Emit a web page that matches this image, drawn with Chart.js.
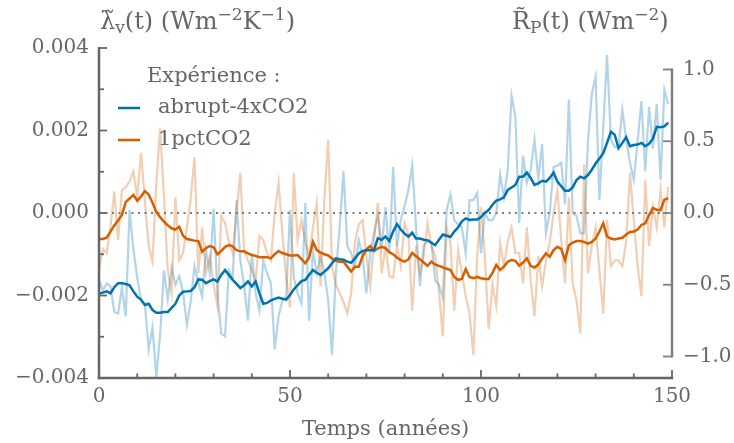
<!DOCTYPE html>
<html>
<head>
<meta charset="utf-8">
<script src="https://cdn.jsdelivr.net/npm/chart.js@4.4.1/dist/chart.umd.min.js"></script>
<style>
  html, body { margin: 0; padding: 0; background: #fff; }
  canvas { display: block; }
</style>
</head>
<body>
<canvas id="chart" width="734" height="443"></canvas>
<script>
// années 0..149
const years = Array.from({ length: 150 }, (_, i) => i);

// lambda_v lissé (Wm-2K-1), axe de gauche
const lambdaAbrupt = [
  -0.00195, -0.00193, -0.00190, -0.00195, -0.00180, -0.00170, -0.00170, -0.00172, -0.00175, -0.00190,
  -0.00203, -0.00210, -0.00223, -0.00220, -0.00235, -0.00242, -0.00242, -0.00240, -0.00240, -0.00230,
  -0.00220, -0.00200, -0.00191, -0.00190, -0.00189, -0.00180, -0.00161, -0.00162, -0.00170, -0.00165,
  -0.00161, -0.00166, -0.00150, -0.00138, -0.00150, -0.00162, -0.00172, -0.00182, -0.00175, -0.00166,
  -0.00178, -0.00166, -0.00195, -0.00220, -0.00218, -0.00212, -0.00208, -0.00205, -0.00208, -0.00210,
  -0.00199, -0.00185, -0.00175, -0.00165, -0.00162, -0.00150, -0.00138, -0.00145, -0.00150, -0.00142,
  -0.00134, -0.00122, -0.00110, -0.00112, -0.00113, -0.00118, -0.00121, -0.00110, -0.00098, -0.00092,
  -0.00090, -0.00090, -0.00090, -0.00061, -0.00065, -0.00057, -0.00068, -0.00045, -0.00027, -0.00040,
  -0.00050, -0.00057, -0.00048, -0.00062, -0.00062, -0.00065, -0.00066, -0.00072, -0.00078, -0.00065,
  -0.00052, -0.00055, -0.00058, -0.00045, -0.00035, -0.00020, -0.00013, -0.00017, -0.00016, -0.00016,
  -0.00010, 0.00000, 0.00007, 0.00020, 0.00030, 0.00033, 0.00038, 0.00056, 0.00062, 0.00068,
  0.00088, 0.00088, 0.00098, 0.00085, 0.00068, 0.00072, 0.00078, 0.00076, 0.00085, 0.00098,
  0.00076, 0.00065, 0.00054, 0.00054, 0.00062, 0.00080, 0.00088, 0.00084, 0.00092, 0.00105,
  0.00120, 0.00132, 0.00145, 0.00170, 0.00197, 0.00190, 0.00157, 0.00170, 0.00184, 0.00162,
  0.00165, 0.00166, 0.00170, 0.00162, 0.00168, 0.00180, 0.00209, 0.00208, 0.00210, 0.00219
];
const lambdaPct = [
  -0.00063, -0.00063, -0.00060, -0.00045, -0.00030, -0.00018, -0.00005, 0.00027, 0.00035, 0.00044,
  0.00030, 0.00040, 0.00053, 0.00045, 0.00025, 0.00003, -0.00010, -0.00021, -0.00030, -0.00037,
  -0.00040, -0.00033, -0.00055, -0.00063, -0.00065, -0.00067, -0.00068, -0.00094, -0.00085, -0.00080,
  -0.00083, -0.00100, -0.00092, -0.00082, -0.00078, -0.00081, -0.00090, -0.00093, -0.00093, -0.00098,
  -0.00102, -0.00104, -0.00107, -0.00107, -0.00107, -0.00110, -0.00100, -0.00092, -0.00097, -0.00100,
  -0.00103, -0.00103, -0.00102, -0.00112, -0.00122, -0.00108, -0.00070, -0.00090, -0.00096, -0.00100,
  -0.00103, -0.00110, -0.00116, -0.00118, -0.00118, -0.00130, -0.00142, -0.00130, -0.00130, -0.00105,
  -0.00088, -0.00080, -0.00092, -0.00086, -0.00082, -0.00085, -0.00095, -0.00100, -0.00108, -0.00114,
  -0.00118, -0.00112, -0.00097, -0.00105, -0.00112, -0.00120, -0.00128, -0.00118, -0.00125, -0.00128,
  -0.00132, -0.00135, -0.00138, -0.00155, -0.00162, -0.00160, -0.00136, -0.00155, -0.00158, -0.00155,
  -0.00158, -0.00160, -0.00160, -0.00145, -0.00126, -0.00138, -0.00130, -0.00118, -0.00114, -0.00116,
  -0.00128, -0.00120, -0.00110, -0.00128, -0.00132, -0.00125, -0.00110, -0.00098, -0.00106, -0.00090,
  -0.00082, -0.00087, -0.00114, -0.00078, -0.00072, -0.00068, -0.00068, -0.00070, -0.00074, -0.00070,
  -0.00062, -0.00045, -0.00025, -0.00057, -0.00062, -0.00064, -0.00062, -0.00060, -0.00052, -0.00046,
  -0.00045, -0.00040, -0.00029, -0.00025, -0.00005, 0.00012, 0.00008, 0.00007, 0.00032, 0.00036
];

// R_P annuel (Wm-2), axe de droite
const rAbrupt = [
  -0.47, -0.54, -0.49, -0.51, -0.69, -0.70, -0.52, -0.72, 0.02, -0.25,
  -0.45, -0.61, -0.63, -0.95, -0.80, -1.14, -0.85, -0.40, -0.60, -0.38,
  -0.50, -0.44, -0.55, -0.78, -0.62, -0.37, -0.48, -0.58, -0.26, -0.42,
  0.03, -0.56, -0.84, -0.86, -0.40, -0.45, 0.09, -0.33, -0.51, -0.75,
  -0.28, -0.56, -0.68, -0.33, -0.42, -0.49, -0.95, -0.72, -0.61, -0.58,
  0.02, -0.45, -0.56, -0.63, 0.07, -0.75, -0.26, -0.42, -0.30, -0.42,
  -0.61, -0.99, -0.42, -0.10, 0.29, -0.23, -0.28, -0.37, -0.19, -0.30,
  -0.56, -0.28, -0.14, -0.02, -0.23, 0.04, -0.28, 0.32, -0.23, -0.05,
  0.05, 0.16, 0.33, -0.10, -0.51, -0.23, -0.19, -0.20, -0.47, -0.50,
  -0.59, 0.02, 0.13, -0.05, -0.08, -0.10, -0.28, 0.09, 0.09, 0.14,
  -0.28, 0.00, -0.05, -0.05, 0.00, 0.27, 0.11, 0.30, 0.82, 0.67,
  -0.07, 0.40, 0.21, 0.30, 0.51, 0.24, 0.48, -0.14, 0.00, 0.32,
  0.33, 0.35, 0.06, 0.79, 0.00, -0.02, -0.14, -0.14, 0.50, 0.83,
  0.95, 0.09, 0.60, 1.10, 0.51, 0.46, 0.46, 0.72, 0.51, 0.35,
  0.23, 0.50, 0.78, 0.29, 0.74, 0.45, 0.76, 0.23, 0.86, 0.76
];
const rPct = [
  -0.40, -0.25, -0.28, -0.10, 0.15, -0.19, 0.16, 0.18, 0.22, 0.29,
  0.11, 0.42, 0.09, -0.23, -0.34, 0.20, 0.59, 0.11, -0.40, -0.56,
  0.11, -0.33, -0.28, -0.10, 0.10, 0.39, -0.42, -0.10, -0.42, -0.30,
  -0.50, -0.65, -0.02, -0.07, -0.20, -0.28, 0.00, 0.28, -0.26, -0.33,
  -0.40, -0.47, -0.16, -0.19, -0.28, -0.33, 0.00, 0.21, -0.14, -0.45,
  -0.66, 0.28, -0.19, -0.05, -0.20, -0.30, -0.10, 0.07, -0.51, 0.10,
  0.51, -0.37, -0.50, -0.56, -0.62, -0.70, -0.56, -0.20, -0.08, -0.05,
  -0.30, -0.51, -0.20, 0.07, -0.42, -0.23, -0.44, -0.45, -0.23, -0.37,
  -0.07, -0.15, -0.68, -0.23, -0.42, -0.30, -0.07, -0.23, -0.30, -0.55,
  -0.86, -0.10, -0.21, -0.68, -0.26, -0.42, -0.58, -0.70, -0.99, -0.30,
  0.04, -0.30, -0.81, -0.50, -0.65, -0.21, -0.37, -0.20, -0.10, -0.28,
  -0.28, -0.49, -0.10, -0.47, -0.72, -0.30, -0.51, -0.33, -0.20, 0.00,
  0.16, -0.19, -0.49, 0.11, -0.49, -0.61, -0.84, 0.34, -0.42, -0.23,
  -0.10, -0.40, -0.70, -0.05, -0.37, -0.33, -0.33, -0.37, -0.20, 0.28,
  -0.05, -0.37, -0.58, 0.23, -0.23, 0.04, -0.10, 0.16, -0.10, 0.18
];

const experiments = ["abrupt-4xCO2", "1pctCO2"];
const xTicks = [0, 50, 100, 150];
const xMinor = [10, 20, 30, 40, 60, 70, 80, 90, 110, 120, 130, 140];
const leftTicks = [-0.004, -0.002, 0, 0.002, 0.004];
const leftMinor = [-0.003, -0.001, 0.001, 0.003];
const rightTicks = [-1.0, -0.5, 0, 0.5, 1.0];

const BLUE = "#0072B2";
const ORANGE = "#D55E00";
const GREY = "#666666";
const FONT = '"DejaVu Serif", serif';

const pts = (arr) => arr.map((v, i) => ({ x: years[i], y: v }));
const setTicks = (vals) => (scale) => { scale.ticks = vals.map(v => ({ value: v })); };
const minus = (s) => s.replace("-", "\u2212");

function line(ctx, x1, y1, x2, y2) {
    ctx.beginPath();
    ctx.moveTo(x1, y1);
    ctx.lineTo(x2, y2);
    ctx.stroke();
}

function richText(ctx, parts, x, y) {
    let cx = x;
    parts.forEach(([txt, size, dy]) => {
        ctx.font = size + "px " + FONT;
        ctx.fillText(txt, cx, y + dy);
        cx += ctx.measureText(txt).width;
    });
}

const decor = {
    id: "decor",
    afterDatasetsDraw(chart) {
        const { ctx, chartArea: a } = chart;
        const { x, y, y2 } = chart.scales;
        ctx.save();
        ctx.lineCap = "butt";

        // spines
        ctx.strokeStyle = GREY;
        ctx.lineWidth = 2.5;
        line(ctx, a.left, a.top - 1, a.left, a.bottom + 1.25);
        line(ctx, a.left - 1.25, a.bottom, a.right + 1.25, a.bottom);
        ctx.strokeStyle = "#7f7f7f";
        line(ctx, a.right, y2.getPixelForValue(1.0) - 1, a.right, y2.getPixelForValue(-1.0) + 1);

        // ticks (vers l'intérieur)
        ctx.lineWidth = 1.8;
        ctx.strokeStyle = GREY;
        leftTicks.forEach(v => { const p = y.getPixelForValue(v); line(ctx, a.left, p, a.left + 8, p); });
        leftMinor.forEach(v => { const p = y.getPixelForValue(v); line(ctx, a.left, p, a.left + 5, p); });
        xTicks.forEach(v => { const p = x.getPixelForValue(v); line(ctx, p, a.bottom, p, a.bottom - 8); });
        xMinor.forEach(v => { const p = x.getPixelForValue(v); line(ctx, p, a.bottom, p, a.bottom - 4.5); });
        ctx.strokeStyle = "#7f7f7f";
        rightTicks.forEach(v => { const p = y2.getPixelForValue(v); line(ctx, a.right, p, a.right - 9, p); });

        // titres des axes y
        ctx.fillStyle = GREY;
        ctx.textBaseline = "alphabetic";
        ctx.textAlign = "left";
        richText(ctx, [["\u03BB\u0303", 24, 0], ["v", 17, 4], ["(t) (Wm", 24, 0], ["\u22122", 17, -9],
            ["K", 24, 0], ["\u22121", 17, -9], [")", 24, 0]], 100, 29);
        richText(ctx, [["R\u0303", 24, 0], ["P", 17, 4], ["(t) (Wm", 24, 0], ["\u22122", 17, -9], [")", 24, 0]], 512, 29);

        // légende
        ctx.font = "21px " + FONT;
        ctx.textBaseline = "middle";
        ctx.fillText("Expérience :", 147, 77);
        [[BLUE, 108], [ORANGE, 140]].forEach(([c, yy], i) => {
            ctx.strokeStyle = c;
            ctx.lineWidth = 2.5;
            line(ctx, 118, yy, 140, yy);
            ctx.fillStyle = GREY;
            ctx.fillText(experiments[i], 158, yy);
        });
        ctx.restore();
    }
};

const tickFont = { family: FONT, size: 20 };

new Chart(document.getElementById("chart"), {
    type: "line",
    data: {
        datasets: [
            { data: pts(lambdaAbrupt), yAxisID: "y", borderColor: BLUE, borderWidth: 2.5, order: 1 },
            { data: pts(lambdaPct), yAxisID: "y", borderColor: ORANGE, borderWidth: 2.5, order: 2 },
            { data: [{ x: 0, y: 0 }, { x: 150, y: 0 }], yAxisID: "y", borderColor: "#7a7a7a",
              borderWidth: 2, borderDash: [2, 4.5], order: 3 },
            { data: pts(rPct), yAxisID: "y2", borderColor: "rgba(213,94,0,0.3)", borderWidth: 2.2, order: 4 },
            { data: pts(rAbrupt), yAxisID: "y2", borderColor: "rgba(0,114,178,0.3)", borderWidth: 2.2, order: 5 },
        ],
    },
    options: {
        responsive: false,
        animation: false,
        layout: { padding: { top: 48 } },
        elements: { point: { radius: 0 }, line: { tension: 0 } },
        plugins: { legend: { display: false }, tooltip: { enabled: false } },
        scales: {
            x: {
                type: "linear", min: 0, max: 150,
                afterBuildTicks: setTicks(xTicks),
                afterFit: (s) => { s.height = 65; },
                grid: { display: false, drawTicks: false },
                border: { display: false },
                ticks: { font: tickFont, color: GREY, padding: 7, maxRotation: 0 },
                title: { display: true, text: "Temps (années)", font: { family: FONT, size: 21 }, color: GREY,
                         padding: { top: 0, bottom: 1 } },
            },
            y: {
                position: "left", min: -0.004, max: 0.004,
                afterBuildTicks: setTicks(leftTicks),
                afterFit: (s) => { s.width = 99; },
                grid: { display: false, drawTicks: false },
                border: { display: false },
                ticks: { font: tickFont, color: GREY, padding: 10,
                         callback: (v) => minus(v.toFixed(3)) },
            },
            y2: {
                position: "right", min: -1.15, max: 1.15,
                afterBuildTicks: setTicks(rightTicks),
                afterFit: (s) => { s.width = 62; },
                grid: { display: false, drawTicks: false },
                border: { display: false },
                ticks: { font: tickFont, color: GREY, padding: 11,
                         callback: (v) => minus(v.toFixed(1)) },
            },
        },
    },
    plugins: [decor],
});
</script>
</body>
</html>
